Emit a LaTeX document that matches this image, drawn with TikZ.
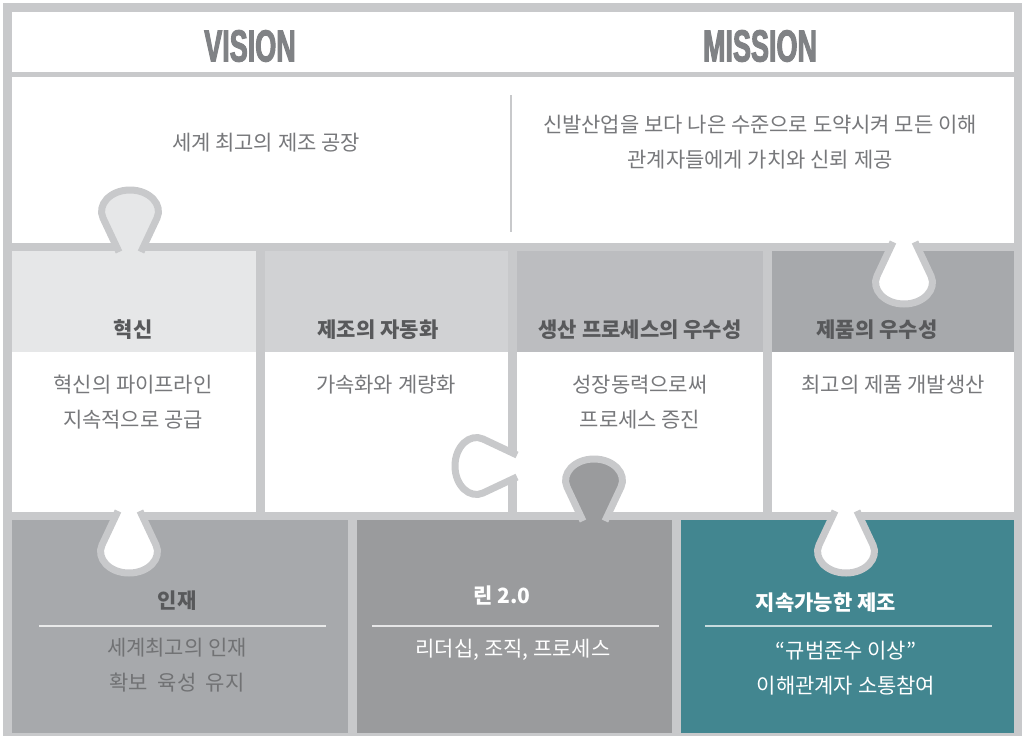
\documentclass[tikz,border=0pt]{standalone}
\usepackage{fontspec}
\setmainfont{Noto Sans CJK KR}
\newfontfamily\titlefont{Liberation Sans}[FakeStretch=0.6,FakeBold=2.2]

\definecolor{framegray}{HTML}{C8C9CB}
\definecolor{hdrone}{HTML}{E6E7E8}
\definecolor{hdrtwo}{HTML}{D1D2D4}
\definecolor{hdrthree}{HTML}{BCBDC0}
\definecolor{hdrfour}{HTML}{A7A9AC}
\definecolor{talentgray}{HTML}{A7A9AC}
\definecolor{leangray}{HTML}{9A9B9D}
\definecolor{sustteal}{HTML}{428690}
\definecolor{titlegray}{HTML}{808285}
\definecolor{headtext}{HTML}{58595B}
\definecolor{bodytext}{HTML}{77787B}

\tikzset{
  title/.style={font=\titlefont\bfseries\fontsize{45}{45}\selectfont, text=titlegray},
  head/.style={font=\bfseries\fontsize{21}{21}\selectfont, text=headtext},
  body/.style={font=\fontsize{21}{35.5}\selectfont, text=bodytext, align=center},
  rule/.style={line width=1.5},
  pics/tab/.style={code={
    \filldraw[draw=framegray, line width=7, fill=#1, line join=round]
      (-11,-9) -- (-27,25) .. controls (-33,38) and (-20,53) .. (0,53)
      .. controls (20,53) and (33,38) .. (27,25) -- (11,-9);
  }}
}

\begin{document}
\begin{tikzpicture}[x=1pt,y=-1pt]
        \useasboundingbox (0,0) rectangle (1025,736);
        % Grey frame behind every piece
        \fill[framegray] (3,3) rectangle (1022,736);

        % Title row and vision / mission block
        \fill[white] (12,12) rectangle (1014,72);
        \fill[white] (12,77) rectangle (1014,243);
        \draw[framegray, line width=2] (511,95) -- (511,232);

        % Second row: coloured headers over white bodies
        \fill[hdrone] (12,251) rectangle (256,352);
        \fill[hdrtwo] (265,251) rectangle (508,352);
        \fill[hdrthree] (517,251) rectangle (763,352);
        \fill[hdrfour] (772,251) rectangle (1014,352);
        \fill[white] (12,352) rectangle (256,512);
        \fill[white] (265,352) rectangle (508,512);
        \fill[white] (517,352) rectangle (763,512);
        \fill[white] (772,352) rectangle (1014,512);

        % Bottom row
        \fill[talentgray] (12,520) rectangle (348,733);
        \fill[leangray] (357,520) rectangle (672,733);
        \fill[sustteal] (681,520) rectangle (1014,733);

        % Puzzle tabs
        \path (130,243) pic[rotate=180] {tab=hdrone};
        \path (904,251) pic {tab=white};
        \path (129,520) pic {tab=white};
        \path (846,520) pic {tab=white};
        \path (594,512) pic[rotate=180] {tab=leangray};
        \path (508,466) pic[rotate=-90] {tab=white};

        % Titles
        \node[title] (vision) at (250,46) {VISION};
        \node[title] (mission) at (760,46) {MISSION};
        \node[body] (visiontext) at (266,143) {세계 최고의 제조 공장};
        \node[body] (missiontext) at (760,142)
          {신발산업을 보다 나은 수준으로 도약시켜 모든 이해\\관계자들에게 가치와 신뢰 제공};

        % Second row texts
        \node[head] (innohead) at (133,330) {혁신};
        \node[head] (autohead) at (378,330) {제조의 자동화};
        \node[head] (prochead) at (640,330) {생산 프로세스의 우수성};
        \node[head] (prodhead) at (877,330) {제품의 우수성};
        \node[body] (innotext) at (133,402) {혁신의 파이프라인\\지속적으로 공급};
        \node[body] (autotext) at (386,385) {가속화와 계량화};
        \node[body] (proctext) at (640,402) {성장동력으로써\\프로세스 증진};
        \node[body] (prodtext) at (893,385) {최고의 제품 개발생산};

        % Bottom row texts
        \node[head] (talenthead) at (177,601) {인재};
        \draw[rule, white!75!talentgray] (39,626) -- (326,626);
        \node[body, text=headtext!85!white] (talenttext) at (177,665) {세계최고의 인재\\확보\ \ 육성\ \ 유지};
        \node[head, text=white] (leanhead) at (502,595) {린 2.0};
        \draw[rule, white!75!leangray] (372,626) -- (659,626);
        \node[body, text=white] (leantext) at (513,650) {리더십, 조직, 프로세스};
        \node[head, text=white] (susthead) at (826,603) {지속가능한 제조};
        \draw[rule, white!70!sustteal] (705,626) -- (992,626);
        \node[body, text=white] (susttext) at (846,668) {“규범준수 이상”\\이해관계자 소통참여};
    \end{tikzpicture}
\end{document}
